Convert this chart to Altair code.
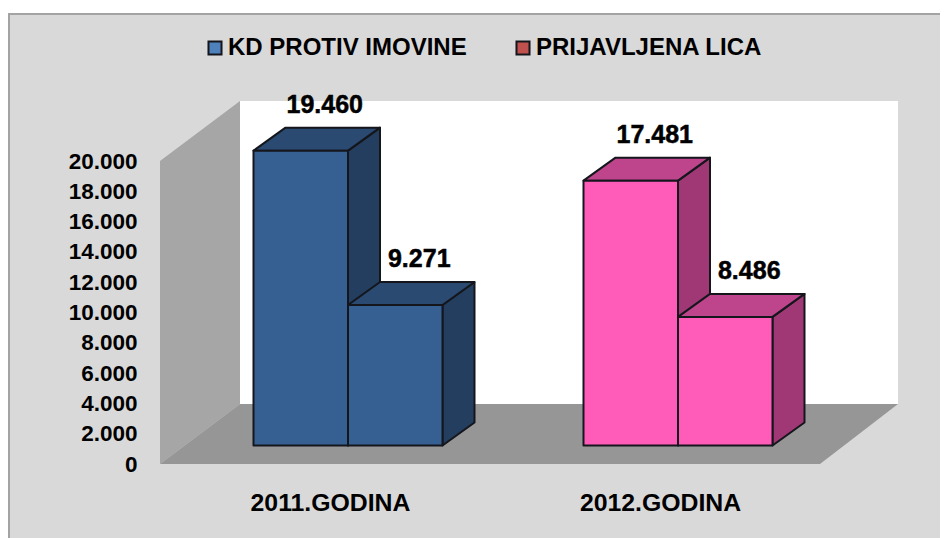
import altair as alt
import pandas as pd

categories = ["2011.GODINA", "2012.GODINA"]
series = ["KD PROTIV IMOVINE", "PRIJAVLJENA LICA"]
kd_values = [19460, 17481]
lica_values = [9271, 8486]
tick_values = [0, 2000, 4000, 6000, 8000, 10000, 12000, 14000, 16000, 18000, 20000]
legend_colors = ["#4f81bd", "#c0504d"]
front_colors = ["#376092", "#ff5bb8"]
top_colors = ["#2a4a72", "#be448c"]
side_colors = ["#233e5e", "#9f3875"]

# scale factors: data units per pixel
UX = 1 / 330
UY = 20000 / 303
PLOT_W, PLOT_H = 738, 363
sx = alt.Scale(domain=[-188 * UX, (738 - 188) * UX], nice=False, zero=False)
sy = alt.Scale(domain=[0, 363 * UY], nice=False, zero=False)

BAR_W = 94.5 * UX
DX, DY = 32 * UX, 23 * UY
BASE = 18.5 * UY
XL, XR = -188 * UX, 550 * UX
WALL_DX, WALL_DY = 80 * UX, 60 * UY

x_axis = alt.Axis(
    values=[i - 18 * UX for i in range(len(categories))],
    labelExpr=f"datum.value < 0.5 ? '{categories[0]}' : '{categories[1]}'",
    ticks=False, domain=False, grid=False, labelPadding=26, labelFont="Liberation Sans",
    labelFontWeight="bold", labelFontSize=24.8, labelColor="black", labelBaseline="top",
    labelFlush=False, labelOverlap=False, zindex=1, title=None)
y_axis = alt.Axis(
    values=tick_values,
    labelExpr="replace(format(datum.value, ','), ',', '.')",
    ticks=False, domain=False, grid=False, labelPadding=23, labelFont="Liberation Sans",
    labelFontWeight="bold", labelFontSize=22.5, labelColor="black", labelOverlap=False,
    labelFlush=False, zindex=1, title=None)

X = lambda f="x": alt.X(f"{f}:Q", scale=sx, axis=x_axis, title=None)
Y = lambda f="y": alt.Y(f"{f}:Q", scale=sy, axis=y_axis, title=None)

rows = []
for g, cat in enumerate(categories):
    for s, vals in enumerate([kd_values, lica_values]):
        rows.append(dict(g=g, s=s, v=vals[g], x0=g + (s - 1) * BAR_W,
                         x1=g + s * BAR_W, top=vals[g] + BASE,
                         label=f"{vals[g]:,}".replace(",", ".")))
bars = pd.DataFrame(rows)
bars["front"] = bars.g.map(lambda i: front_colors[i])


def side_df(d):
    out = []
    for _, r in d.iterrows():
        c = side_colors[r.g]
        out.append(dict(bar=r.g, x=r.x1, y=r.top, y2=BASE, c=c))
        out.append(dict(bar=r.g, x=r.x1 + DX, y=r.top + DY, y2=BASE + DY, c=c))
    return pd.DataFrame(out)


def top_df(d):
    out = []
    for _, r in d.iterrows():
        c = top_colors[r.g]
        out.append(dict(bar=r.g, y=r.top, x=r.x0, x2=r.x1, c=c))
        out.append(dict(bar=r.g, y=r.top + DY, x=r.x0 + DX, x2=r.x1 + DX, c=c))
    return pd.DataFrame(out)


STROKE = dict(stroke="#14161c", strokeWidth=2, strokeJoin="round")

backdrop = alt.Chart(pd.DataFrame({"a": [0]})).mark_rect(
    fill="#d9d9d9", stroke="#a3a3a3", strokeWidth=2
).encode(x=alt.value(-151), x2=alt.value(820), y=alt.value(-87), y2=alt.value(470))

back_wall = alt.Chart(pd.DataFrame({"x": [XL + WALL_DX], "x2": [XR], "y": [WALL_DY], "y2": [363 * UY]})).mark_rect(
    fill="white"
).encode(x=X(), x2="x2:Q", y=Y(), y2="y2:Q")

left_wall = alt.Chart(pd.DataFrame({
    "x": [XL, XL + WALL_DX],
    "y": [20000, 20000 + WALL_DY],
    "y2": [0, WALL_DY],
})).mark_area(color="#a6a6a6").encode(x=X(), y=Y(), y2="y2:Q")

floor = alt.Chart(pd.DataFrame({
    "y": [0, WALL_DY],
    "x": [XL, XL + WALL_DX],
    "x2": [XR - WALL_DX + 2 * UX, XR],
})).mark_area(color="#969696", orient="horizontal").encode(y=Y(), x=X(), x2="x2:Q")

layers = [backdrop, back_wall, left_wall, floor]
for s in [0, 1]:
    d = bars[bars.s == s]
    layers.append(alt.Chart(side_df(d)).mark_area(**STROKE).encode(
        x=X(), y=Y(), y2="y2:Q", detail="bar:N", color=alt.Color("c:N", scale=None)))
    layers.append(alt.Chart(top_df(d)).mark_area(orient="horizontal", **STROKE).encode(
        y=Y(), x=X(), x2="x2:Q", detail="bar:N", color=alt.Color("c:N", scale=None)))
    layers.append(alt.Chart(d).mark_rect(**STROKE).encode(
        x=X("x0"), x2="x1:Q", y=Y("top"), y2=alt.Y2(datum=BASE),
        color=alt.Color("front:N", scale=None)))

labels = alt.Chart(bars.assign(c=bars.x0 + BAR_W / 2)).mark_text(
    font="Liberation Sans", fontWeight="bold", fontSize=25, color="black",
    stroke="black", strokeWidth=0.5, baseline="middle", dx=24, dy=-46
).encode(x=X("c"), y=Y("top"), text="label:N")
layers.append(labels)

legend_layer = alt.Chart(pd.DataFrame({"name": series, "x": [0, 0], "y": [0, 0]})).mark_square(
    opacity=0
).encode(
    x=X(), y=Y(),
    color=alt.Color("name:N", scale=alt.Scale(domain=series, range=legend_colors), title=None,
                    legend=alt.Legend(
                        orient="none", legendX=43, legendY=-65, direction="horizontal", columns=2,
                        columnPadding=44, symbolType="square", symbolSize=170, symbolOpacity=1,
                        symbolStrokeColor="black", symbolStrokeWidth=2,
                        labelFont="Liberation Sans", labelFontWeight="bold", labelFontSize=24,
                        labelColor="black", labelLimit=400, labelOffset=1)),
)
layers.append(legend_layer)

chart = alt.layer(*layers).properties(
    width=PLOT_W, height=PLOT_H, background="white",
    padding={"left": 152, "top": 93, "right": 42, "bottom": 74},
    autosize=alt.AutoSizeParams(type="none"),
).configure_view(stroke=None)

chart.save("out.html", embed_options={"renderer": "svg", "actions": False})
